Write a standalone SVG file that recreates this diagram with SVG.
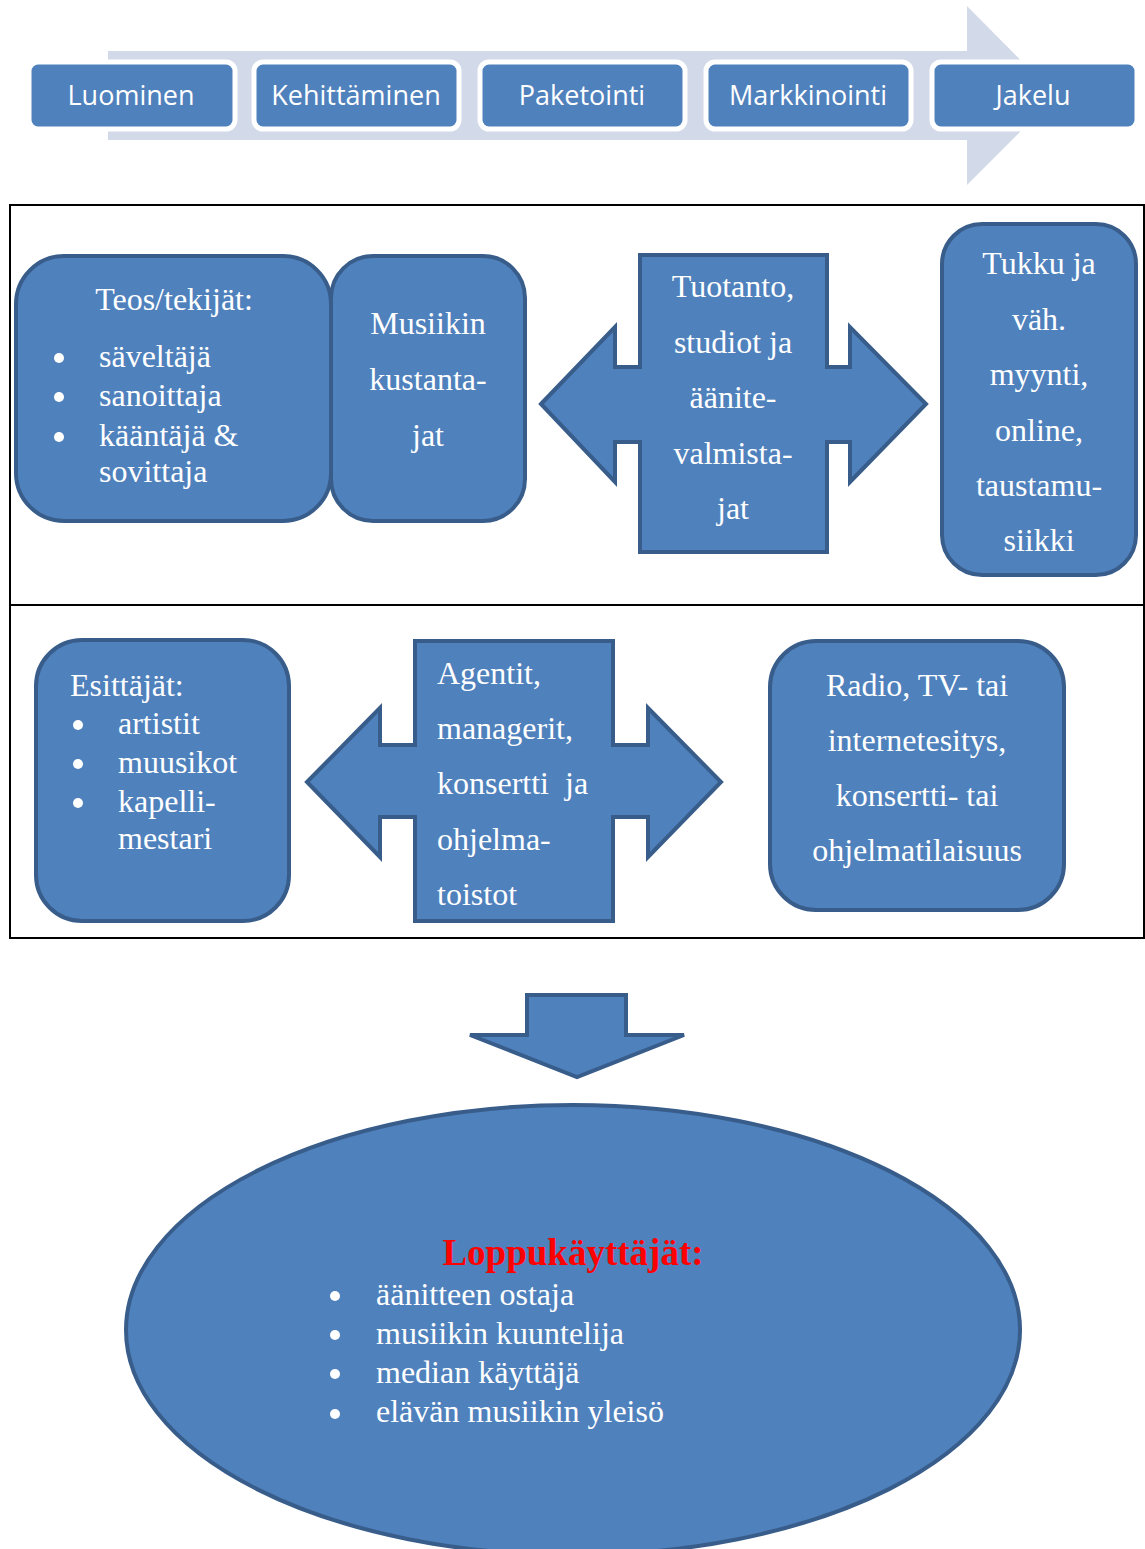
<svg xmlns="http://www.w3.org/2000/svg" width="1145" height="1549" viewBox="0 0 1145 1549">
<style>
.shape{fill:#4f81bd;stroke:#385d8a;stroke-width:4}
.step{fill:#4f81bd;stroke:#ffffff;stroke-width:5}
.st{font-family:"Open Sans","Liberation Sans",sans-serif;font-size:27px;fill:#ffffff;text-anchor:middle}
.t{font-family:"Liberation Serif","Times New Roman",serif;font-size:32px;fill:#ffffff}
.c{text-anchor:middle}
.frame{fill:none;stroke:#000000;stroke-width:2}
</style>
<rect width="1145" height="1549" fill="#ffffff"/>
<g id="process-arrow">
<path d="M108,51 L967,51 L967,6 L1056,96 L967,185 L967,140 L108,140 Z" fill="#d2d9e8"/>
</g>
<g id="step-luominen"><rect class="step" x="29" y="62" width="206" height="67" rx="9"/><text class="st" x="131" y="105">Luominen</text></g>
<g id="step-kehittaminen"><rect class="step" x="254" y="62" width="205" height="67" rx="9"/><text class="st" x="356" y="105">Kehittäminen</text></g>
<g id="step-paketointi"><rect class="step" x="480" y="62" width="205" height="67" rx="9"/><text class="st" x="582" y="105">Paketointi</text></g>
<g id="step-markkinointi"><rect class="step" x="706" y="62" width="205" height="67" rx="9"/><text class="st" x="808" y="105">Markkinointi</text></g>
<g id="step-jakelu"><rect class="step" x="932" y="62" width="205" height="67" rx="9"/><text class="st" x="1033" y="105">Jakelu</text></g>
<g id="frame">
<rect class="frame" x="10" y="205" width="1134" height="733"/>
<line class="frame" x1="10" y1="605" x2="1144" y2="605"/>
</g>
<g id="teos">
<rect class="shape" x="16" y="256" width="315" height="265" rx="48"/>
<text class="t c" x="174" y="310">Teos/tekijät:</text>
<circle cx="59" cy="358" r="5" fill="#fff"/><text class="t" x="99" y="367">säveltäjä</text>
<circle cx="59" cy="397" r="5" fill="#fff"/><text class="t" x="99" y="406">sanoittaja</text>
<circle cx="59" cy="437" r="5" fill="#fff"/><text class="t" x="99" y="446">kääntäjä &amp;</text>
<text class="t" x="99" y="482">sovittaja</text>
</g>
<g id="musiikin">
<rect class="shape" x="331" y="256" width="194" height="265" rx="42"/>
<text class="t c" x="428" y="334">Musiikin</text>
<text class="t c" x="428" y="390">kustanta-</text>
<text class="t c" x="428" y="446">jat</text>
</g>
<g id="tuotanto">
<path class="shape" d="M541,404 L615,327 L615,367 L640,367 L640,255 L827,255 L827,367 L850,367 L850,327 L926,404 L850,482 L850,442 L827,442 L827,552 L640,552 L640,442 L615,442 L615,482 Z"/>
<text class="t c" x="733" y="297">Tuotanto,</text>
<text class="t c" x="733" y="353">studiot ja</text>
<text class="t c" x="733" y="408">äänite-</text>
<text class="t c" x="733" y="464">valmista-</text>
<text class="t c" x="733" y="519">jat</text>
</g>
<g id="tukku">
<rect class="shape" x="942" y="224" width="194" height="351" rx="40"/>
<text class="t c" x="1039" y="274">Tukku ja</text>
<text class="t c" x="1039" y="330">väh.</text>
<text class="t c" x="1039" y="385">myynti,</text>
<text class="t c" x="1039" y="441">online,</text>
<text class="t c" x="1039" y="496">taustamu-</text>
<text class="t c" x="1039" y="551">siikki</text>
</g>
<g id="esittajat">
<rect class="shape" x="36" y="640" width="253" height="281" rx="46"/>
<text class="t" x="70" y="696">Esittäjät:</text>
<circle cx="78" cy="725" r="5" fill="#fff"/><text class="t" x="118" y="734">artistit</text>
<circle cx="78" cy="764" r="5" fill="#fff"/><text class="t" x="118" y="773">muusikot</text>
<circle cx="78" cy="803" r="5" fill="#fff"/><text class="t" x="118" y="812">kapelli-</text>
<text class="t" x="118" y="849">mestari</text>
</g>
<g id="agentit">
<path class="shape" d="M307,782 L380,708 L380,745 L415,745 L415,641 L613,641 L613,745 L648,745 L648,708 L721,782 L648,857 L648,817 L613,817 L613,921 L415,921 L415,817 L380,817 L380,857 Z"/>
<text class="t" x="437" y="684">Agentit,</text>
<text class="t" x="437" y="739">managerit,</text>
<text class="t" x="437" y="794" xml:space="preserve">konsertti  ja</text>
<text class="t" x="437" y="850">ohjelma-</text>
<text class="t" x="437" y="905">toistot</text>
</g>
<g id="radio">
<rect class="shape" x="770" y="641" width="294" height="269" rx="46"/>
<text class="t c" x="917" y="696">Radio, TV- tai</text>
<text class="t c" x="917" y="751">internetesitys,</text>
<text class="t c" x="917" y="806">konsertti- tai</text>
<text class="t c" x="917" y="861">ohjelmatilaisuus</text>
</g>
<g id="connectors">
<path class="shape" d="M527,995 L626,995 L626,1035 L684,1035 L577,1077 L470,1035 L527,1035 Z"/>
</g>
<g id="loppukayttajat">
<ellipse class="shape" cx="573" cy="1330" rx="447" ry="225"/>
<text x="573" y="1265" text-anchor="middle" font-family="'Liberation Serif','Times New Roman',serif" font-size="37" font-weight="bold" fill="#ff0000">Loppukäyttäjät:</text>
<circle cx="335" cy="1296" r="5" fill="#fff"/><text class="t" x="376" y="1305">äänitteen ostaja</text>
<circle cx="335" cy="1335" r="5" fill="#fff"/><text class="t" x="376" y="1344">musiikin kuuntelija</text>
<circle cx="335" cy="1374" r="5" fill="#fff"/><text class="t" x="376" y="1383">median käyttäjä</text>
<circle cx="335" cy="1414" r="5" fill="#fff"/><text class="t" x="376" y="1422">elävän musiikin yleisö</text>
</g>
</svg>
